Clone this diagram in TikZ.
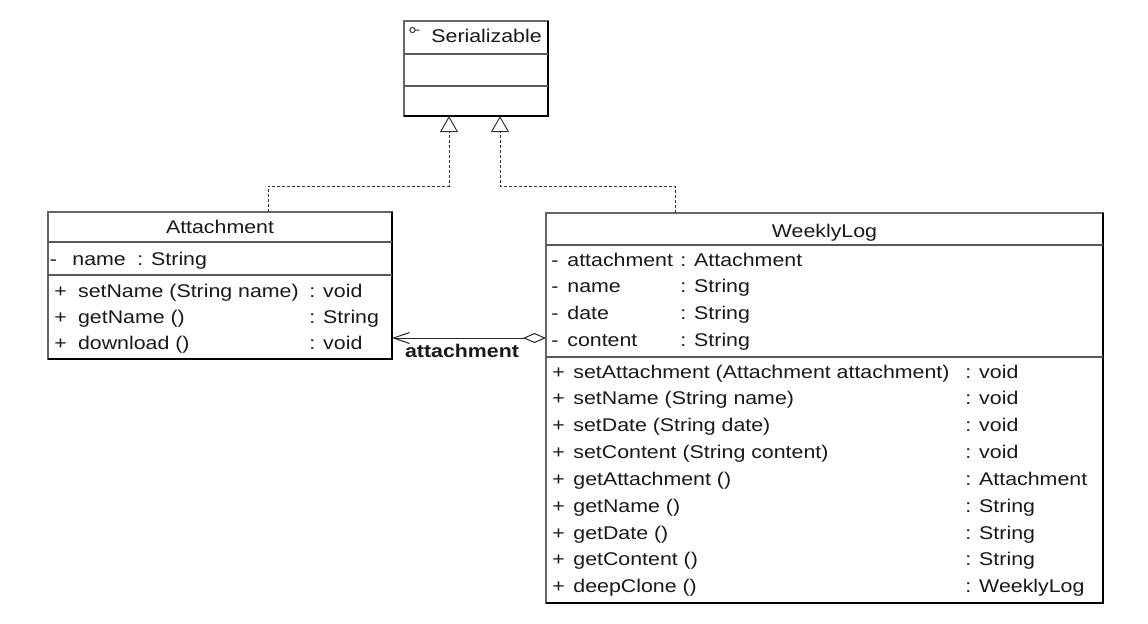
\documentclass[tikz,border=0pt]{standalone}
\usepackage{fontspec}
\setmainfont{Liberation Sans}[FakeStretch=1.16]
\usetikzlibrary{arrows.meta}

\tikzset{
  classbox/.style={draw=black!60, line width=0.7pt, fill=white, inner sep=0pt, outer sep=0pt, anchor=north west},
  shadeedge/.style={draw=black, line width=1.1pt},
  divider/.style={draw=black!65, line width=0.6pt},
  member/.style={anchor=base west, inner sep=0pt, text=black!90},
  classname/.style={anchor=base, inner sep=0pt, text=black!90},
  realize/.style={draw=black!80, line width=0.5pt, dash pattern=on 1.5pt off 1pt,
    -{Triangle[open, fill=white, length=8pt, width=9pt]}},
  aggr/.style={draw=black!85, line width=0.5pt,
    {Diamond[open, fill=white, length=11.5pt, width=5pt]}-{Straight Barb[length=8pt, width=5.5pt]}},
}

\begin{document}
\begin{tikzpicture}[x=0.5pt, y=-0.5pt, font=\fontsize{9.2pt}{11pt}\selectfont]
  \useasboundingbox[fill=white] (0,0) rectangle (1148,623);

  % Serializable interface
  \node[classbox, minimum width=72pt, minimum height=47.5pt] (ser) at (404,21) {};
  \draw[shadeedge] (ser.north east) -- (ser.south east) -- (ser.south west);
  \draw[divider] (404,54) -- (548,54);
  \draw[divider] (404,86) -- (548,86);
  \draw[black!80, line width=0.5pt] (412.5,30) circle[radius=1.3pt] (415.1,30) -- (419.5,30);
  \node[member] (ser-name) at (431,42) {Serializable};

  % Attachment class
  \node[classbox, minimum width=172pt, minimum height=73.5pt] (att) at (48,212) {};
  \draw[shadeedge] (att.north east) -- (att.south east) -- (att.south west);
  \draw[divider] (48,242) -- (392,242);
  \draw[divider] (48,275) -- (392,275);
  \node[classname] (att-name) at (220,233) {Attachment};
  \node[member] (att-av1) at (49.5,265) {-};
  \node[member] (att-a1) at (72,265) {name};
  \node[member] (att-at1) at (137,265) {: String};
  \foreach \mname/\mtype [count=\i] in {setName (String name)/void, getName ()/String, download ()/void} {
    \node[member] (att-mv\i) at (54,{297+26*(\i-1)}) {+};
    \node[member] (att-m\i) at (77.7,{297+26*(\i-1)}) {\mname};
    \node[member] (att-mt\i) at (309,{297+26*(\i-1)}) {: \mtype};
  }

  % WeeklyLog class
  \node[classbox, minimum width=278.5pt, minimum height=195pt] (wl) at (546,213) {};
  \draw[shadeedge] (wl.north east) -- (wl.south east) -- (wl.south west);
  \draw[divider] (546,245) -- (1103,245);
  \draw[divider] (546,357) -- (1103,357);
  \node[classname] (wl-name) at (824.5,237) {WeeklyLog};
  \foreach \aname/\atype [count=\i] in {attachment/Attachment, name/String, date/String, content/String} {
    \node[member] (wl-av\i) at (551,{266+26.8*(\i-1)}) {-};
    \node[member] (wl-a\i) at (567,{266+26.8*(\i-1)}) {\aname};
    \node[member] (wl-at\i) at (680,{266+26.8*(\i-1)}) {: \atype};
  }
  \foreach \mname/\mtype [count=\i] in {setAttachment (Attachment attachment)/void,
      setName (String name)/void, setDate (String date)/void,
      setContent (String content)/void, getAttachment ()/Attachment,
      getName ()/String, getDate ()/String, getContent ()/String,
      deepClone ()/WeeklyLog} {
    \node[member] (wl-mv\i) at (552,{378+26.85*(\i-1)}) {+};
    \node[member] (wl-m\i) at (573,{378+26.85*(\i-1)}) {\mname};
    \node[member] (wl-mt\i) at (965,{378+26.85*(\i-1)}) {: \mtype};
  }

  % realizations
  \coordinate (att-in) at (268,186);
  \coordinate (ser-l) at (449,186);
  \coordinate (wl-in) at (675,186);
  \coordinate (ser-r) at (500,186);
  \draw[realize] (att.north -| att-in) -- (att-in) -- (ser-l) -- (ser.south -| ser-l);
  \draw[realize] (wl.north -| wl-in) -- (wl-in) -- (ser-r) -- (ser.south -| ser-r);

  % aggregation
  \coordinate (agg-y) at (0,338);
  \draw[aggr] (wl.west |- agg-y) -- (att.east |- agg-y);
  \node[classname, font=\fontsize{9.2pt}{11pt}\selectfont\bfseries] (agg-label) at (462,357) {attachment};
\end{tikzpicture}
\end{document}
